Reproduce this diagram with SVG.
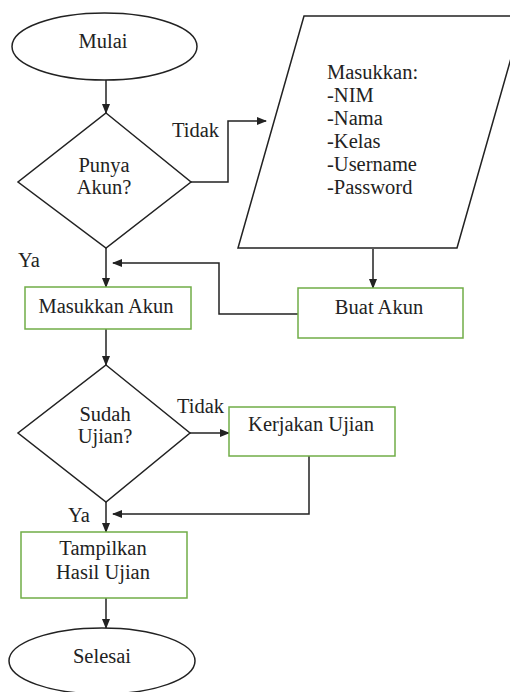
<svg xmlns="http://www.w3.org/2000/svg" width="510" height="692" viewBox="0 0 510 692">
<style>
  .shape { fill: #fff; stroke: #222; stroke-width: 1.5; }
  .box { fill: #fff; stroke: #70AD47; stroke-width: 1.5; }
  .conn { fill: none; stroke: #222; stroke-width: 1.5; }
  text { font-family: 'Liberation Serif', 'DejaVu Serif', serif; font-size: 20.5px; fill: #222; }
  .c { text-anchor: middle; }
</style>
<defs>
  <marker id="arrow" markerWidth="10" markerHeight="8" refX="9" refY="4" orient="auto" markerUnits="userSpaceOnUse">
    <path d="M0,0 L10,4 L0,8 Z" fill="#222"/>
  </marker>
</defs>
<rect width="510" height="692" fill="#fff"/>

<g id="connectors">
  <path class="conn" d="M106,80 L106,113" marker-end="url(#arrow)"/>
  <path class="conn" d="M191,182 L228,182 L228,121 L266,121" marker-end="url(#arrow)"/>
  <path class="conn" d="M106,248 L106,287" marker-end="url(#arrow)"/>
  <path class="conn" d="M373,249 L373,288" marker-end="url(#arrow)"/>
  <path class="conn" d="M298,314 L219,314 L219,263 L113,263" marker-end="url(#arrow)"/>
  <path class="conn" d="M106,329 L106,365" marker-end="url(#arrow)"/>
  <path class="conn" d="M190,433 L229,433" marker-end="url(#arrow)"/>
  <path class="conn" d="M106,502 L106,532" marker-end="url(#arrow)"/>
  <path class="conn" d="M309,456 L309,514 L113,514" marker-end="url(#arrow)"/>
  <path class="conn" d="M106,598 L106,628" marker-end="url(#arrow)"/>
  <text x="172" y="137">Tidak</text>
  <text x="18" y="267">Ya</text>
  <text x="177" y="413">Tidak</text>
  <text x="68" y="522">Ya</text>
</g>

<g id="mulai">
  <ellipse class="shape" cx="104.5" cy="46.5" rx="92.5" ry="33.5"/>
  <text class="c" x="103" y="48">Mulai</text>
</g>

<g id="punya-akun">
  <polygon class="shape" points="106,113 191,182 106,248 18,182"/>
  <text class="c" x="104" y="172">Punya</text>
  <text class="c" x="104" y="194">Akun?</text>
</g>

<g id="input-data">
  <polygon class="shape" points="304,16 523,16 457,248 238,248"/>
  <text x="327" y="79">Masukkan:</text>
  <text x="327" y="102">-NIM</text>
  <text x="327" y="125">-Nama</text>
  <text x="327" y="148">-Kelas</text>
  <text x="327" y="171">-Username</text>
  <text x="327" y="194">-Password</text>
</g>

<g id="buat-akun">
  <rect class="box" x="298" y="288" width="165" height="50"/>
  <text class="c" x="379" y="314">Buat Akun</text>
</g>

<g id="masukkan-akun">
  <rect class="box" x="25" y="287" width="166" height="42"/>
  <text class="c" x="106" y="313">Masukkan Akun</text>
</g>

<g id="sudah-ujian">
  <polygon class="shape" points="106,365 190,433 106,502 18,433"/>
  <text class="c" x="105" y="421">Sudah</text>
  <text class="c" x="105" y="443">Ujian?</text>
</g>

<g id="kerjakan-ujian">
  <rect class="box" x="229" y="407" width="166" height="49"/>
  <text class="c" x="311" y="431">Kerjakan Ujian</text>
</g>

<g id="tampilkan-hasil">
  <rect class="box" x="21" y="532" width="166" height="66"/>
  <text class="c" x="103" y="555">Tampilkan</text>
  <text class="c" x="103" y="579">Hasil Ujian</text>
</g>

<g id="selesai">
  <ellipse class="shape" cx="102" cy="661" rx="93" ry="33"/>
  <text class="c" x="102" y="663">Selesai</text>
</g>
</svg>
